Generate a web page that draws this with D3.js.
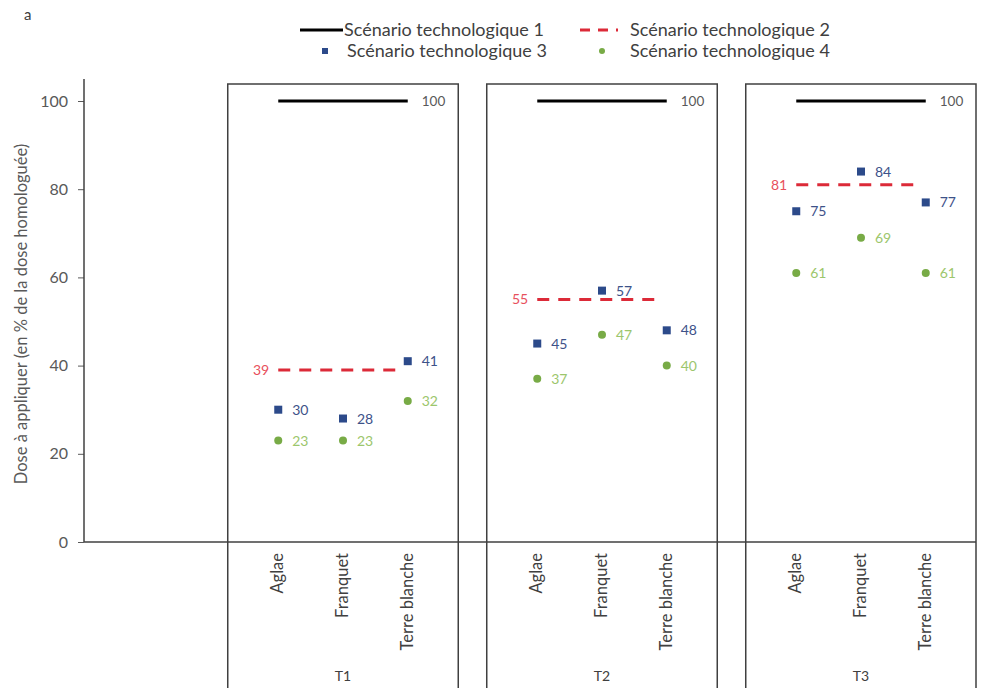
<!DOCTYPE html>
<html>
<head>
<meta charset="utf-8">
<script src="https://cdn.jsdelivr.net/npm/d3@7"></script>
<style>
  body { margin: 0; background: #fff; }
  svg { font-family: Lato, "Open Sans", sans-serif; }
</style>
</head>
<body>
<svg id="chart" width="981" height="688"></svg>
<script>
// données
const groupes = ["T1", "T2", "T3"];
const varietes = ["Aglae", "Franquet", "Terre blanche"];
const scenario1 = [100, 100, 100];
const scenario2 = [39, 55, 81];
const scenario3 = [[30, 28, 41], [45, 57, 48], [75, 84, 77]];
const scenario4 = [[23, 23, 32], [37, 47, 40], [61, 69, 61]];
const yTicks = [0, 20, 40, 60, 80, 100];
const legende = ["Scénario technologique 1", "Scénario technologique 2", "Scénario technologique 3", "Scénario technologique 4"];

const bleu = "#2c4a8a";
const bleuTexte = "#3d5289";
const vert = "#78ab46";
const vertTexte = "#9cc66c";
const rouge = "#dc2a38";

const svg = d3.select("#chart");

// échelles
const x = d3.scaleLinear().domain([0, 14]).range([84, 84 + 14 * 64.75]);
const y = d3.scaleLinear().domain([0, 100]).range([542, 101]);
const slot = (g, v) => 3 + 4 * g + v;

// axe y
const yAxis = d3.axisLeft(y).tickValues(yTicks).tickSize(6).tickPadding(10);
const gy = svg.append("g").attr("transform", `translate(${x(0)},0)`).call(yAxis);
gy.select(".domain").remove();
gy.selectAll(".tick line").attr("stroke", "#595959");
gy.selectAll(".tick text").attr("fill", "#595959").attr("font-size", 16).attr("font-family", "Lato");
svg.append("line")
  .attr("x1", x(0)).attr("x2", x(0))
  .attr("y1", y(105)).attr("y2", y(0))
  .attr("stroke", "#404040").attr("stroke-width", 1.5);

svg.append("text")
  .attr("transform", `translate(27, 314) rotate(-90)`)
  .attr("text-anchor", "middle")
  .attr("fill", "#595959")
  .attr("font-size", 16.5)
  .text("Dose à appliquer (en % de la dose homologuée)");

// axe x (ligne horizontale)
svg.append("line")
  .attr("x1", x(0)).attr("x2", 976)
  .attr("y1", y(0)).attr("y2", y(0))
  .attr("stroke", "#404040").attr("stroke-width", 1.5);

// panneaux
groupes.forEach((grp, g) => {
  const x0 = x(slot(g, 0) - 0.78);
  const x1 = Math.min(x(slot(g, 2) + 0.78), 976);
  svg.append("path")
    .attr("d", `M${x0},700 V84 H${x1} V700`)
    .attr("fill", "none")
    .attr("stroke", "#404040").attr("stroke-width", 1.5);

  svg.append("text")
    .attr("x", x(slot(g, 1))).attr("y", 681)
    .attr("text-anchor", "middle")
    .attr("fill", "#404040").attr("font-size", 14)
    .text(grp);

  varietes.forEach((v, i) => {
    svg.append("text")
      .attr("transform", `translate(${x(slot(g, i)) + 5}, 553) rotate(-90)`)
      .attr("text-anchor", "end")
      .attr("fill", "#404040").attr("font-size", 16.5)
      .text(v);
  });

  // scénario 1
  svg.append("line")
    .attr("x1", x(slot(g, 0))).attr("x2", x(slot(g, 2)))
    .attr("y1", y(scenario1[g])).attr("y2", y(scenario1[g]))
    .attr("stroke", "#000").attr("stroke-width", 3);
  svg.append("text")
    .attr("x", x(slot(g, 2)) + 14).attr("y", y(scenario1[g]) + 5)
    .attr("fill", "#595959").attr("font-size", 13.5)
    .text(scenario1[g]);

  // scénario 2
  svg.append("line")
    .attr("x1", x(slot(g, 0))).attr("x2", x(slot(g, 2)) - 6)
    .attr("y1", y(scenario2[g])).attr("y2", y(scenario2[g]))
    .attr("stroke", rouge).attr("stroke-width", 3)
    .attr("stroke-dasharray", "12,9");
  svg.append("text")
    .attr("x", x(slot(g, 0)) - 9).attr("y", y(scenario2[g]) + 5)
    .attr("text-anchor", "end")
    .attr("fill", "#e8505c").attr("font-size", 14)
    .text(scenario2[g]);

  // scénario 3
  varietes.forEach((v, i) => {
    const val = scenario3[g][i];
    svg.append("rect")
      .attr("x", x(slot(g, i)) - 4).attr("y", y(val) - 4)
      .attr("width", 8).attr("height", 8)
      .attr("fill", bleu);
    svg.append("text")
      .attr("x", x(slot(g, i)) + 14).attr("y", y(val) + 5)
      .attr("fill", bleuTexte).attr("font-size", 14)
      .text(val);
  });

  // scénario 4
  varietes.forEach((v, i) => {
    const val = scenario4[g][i];
    svg.append("circle")
      .attr("cx", x(slot(g, i))).attr("cy", y(val))
      .attr("r", 4)
      .attr("fill", vert);
    svg.append("text")
      .attr("x", x(slot(g, i)) + 14).attr("y", y(val) + 5)
      .attr("fill", vertTexte).attr("font-size", 14)
      .text(val);
  });
});

// légende
const leg = svg.append("g").attr("font-size", 18).attr("fill", "#404040");
leg.append("line").attr("x1", 300).attr("x2", 343).attr("y1", 30).attr("y2", 30)
  .attr("stroke", "#000").attr("stroke-width", 3);
leg.append("text").attr("x", 344).attr("y", 36).text(legende[0]);
leg.append("line").attr("x1", 580).attr("x2", 618).attr("y1", 30).attr("y2", 30)
  .attr("stroke", rouge).attr("stroke-width", 3).attr("stroke-dasharray", "10,8");
leg.append("text").attr("x", 630).attr("y", 36).text(legende[1]);
leg.append("rect").attr("x", 322).attr("y", 48).attr("width", 6).attr("height", 6).attr("fill", bleu);
leg.append("text").attr("x", 347).attr("y", 57).text(legende[2]);
leg.append("circle").attr("cx", 602).attr("cy", 51).attr("r", 3).attr("fill", vert);
leg.append("text").attr("x", 630).attr("y", 57).text(legende[3]);

svg.append("text").attr("x", 24).attr("y", 20).attr("font-size", 15).attr("fill", "#404040").text("a");
</script>
</body>
</html>
